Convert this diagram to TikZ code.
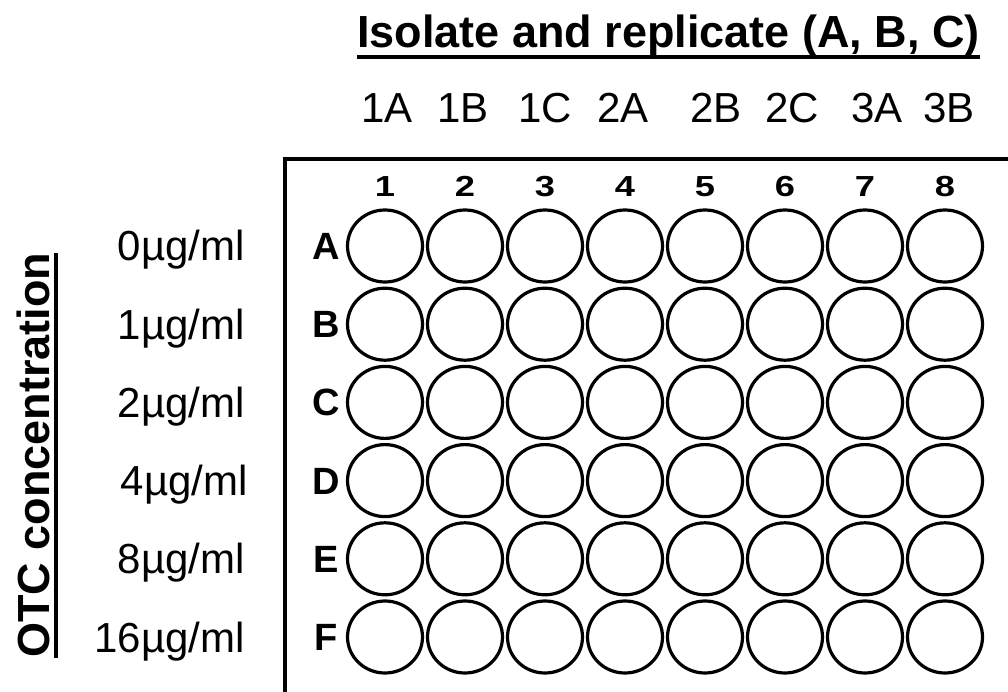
\documentclass[tikz,border=0pt]{standalone}
\usepackage{fontspec}
\setmainfont{Liberation Sans}
\usetikzlibrary{shapes.geometric}
\tikzset{
  well/.style={draw, line width=3.2pt, shape=ellipse, minimum width=75pt, minimum height=72pt, inner sep=0pt},
  plate/.style={line width=4pt, line join=miter},
  collabel/.style={anchor=base, inner sep=0pt, font=\fontsize{42}{48}\selectfont},
  conclabel/.style={anchor=base east, inner sep=0pt, font=\fontsize{42}{48}\selectfont},
  platenum/.style={anchor=base, inner sep=0pt, xscale=1.25, font=\bfseries\fontsize{29}{32}\selectfont},
  rowletter/.style={anchor=base, inner sep=0pt, font=\bfseries\fontsize{38}{42}\selectfont},
  heading/.style={inner sep=0pt, font=\bfseries\fontsize{45}{52}\selectfont},
  uline/.style={line width=4pt}
}
\begin{document}
\begin{tikzpicture}[x=1pt,y=-1pt]
\useasboundingbox (0,0) rectangle (1008,692);
% plate outline
\coordinate (pbl) at (285,692);
\coordinate (ptl) at (285,159);
\coordinate (ptr) at (1008,159);
\draw[plate] (pbl) -- (ptl) -- (ptr);
% title
\node[heading, anchor=base west] (title) at (357,48) {Isolate and replicate (A, B, C)};
\draw[uline] ([yshift=-9pt]title.base west) -- ([yshift=-9pt]title.base east);
% isolate labels
\foreach \lab/\x [count=\i] in {1A/387,1B/463,1C/545,2A/623,2B/716,2C/792,3A/877,3B/949}{
  \node[collabel] (iso\i) at (\x,123) {\lab};
}
% plate column numbers and wells
\foreach \c in {1,...,8}{
  \node[platenum] (num\c) at ({385+80*(\c-1)},197) {\c};
}
\foreach \r/\L [count=\j from 0] in {A/A,B/B,C/C,D/D,E/E,F/F}{
  \node[rowletter] (row\L) at (326,{246+78.2*\j+13.5}) {\L};
  \foreach \c in {1,...,8}{
    \node[well] (w\L\c) at ({385+80*(\c-1)},{246+78.2*\j}) {};
  }
}
% concentration labels
\node[conclabel] (c0) at (245,{246+15}) {0µg/ml};
\node[conclabel] (c1) at (245,{246+78.2+15}) {1µg/ml};
\node[conclabel] (c2) at (245,{246+2*78.2+15}) {2µg/ml};
\node[conclabel] (c4) at (248,{246+3*78.2+15}) {4µg/ml};
\node[conclabel] (c8) at (245,{246+4*78.2+15}) {8µg/ml};
\node[conclabel] (c16) at (245,{246+5*78.2+15}) {16µg/ml};
% rotated axis title
\node[heading, rotate=90, anchor=base west] (otc) at (49,658) {OTC concentration};
\draw[uline] ([xshift=7pt]otc.base west) -- ([xshift=7pt]otc.base east);
\end{tikzpicture}
\end{document}
